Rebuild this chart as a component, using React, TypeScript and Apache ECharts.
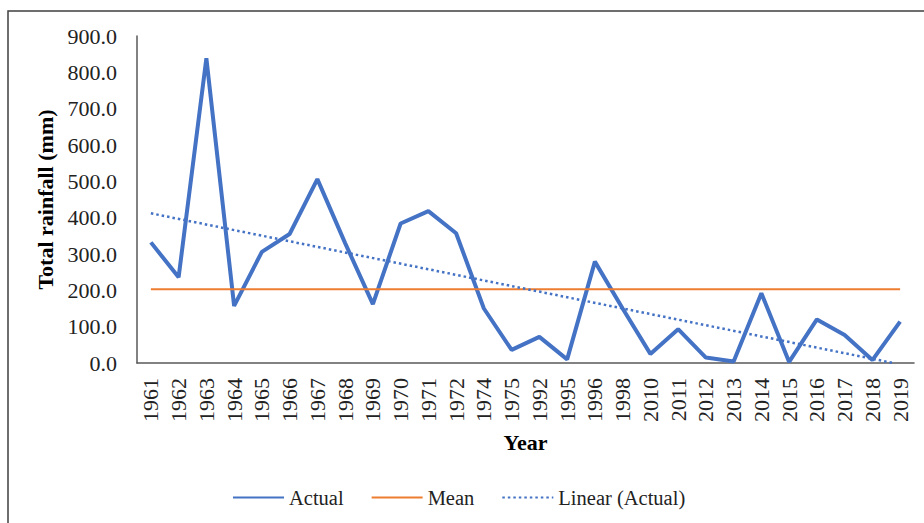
import React, { useEffect, useRef } from "react";
import * as echarts from "echarts";

const years = ["1961","1962","1963","1964","1965","1966","1967","1968","1969","1970","1971","1972","1974","1975","1992","1995","1996","1998","2010","2011","2012","2013","2014","2015","2016","2017","2018","2019"];
const actual = [332,236,839,157,306,355,506,330,162,384,418,357,150,36,72,10,279,150,25,93,15,4,192,3,120,77,8,114];
const meanValue = 203;
const meanLine = [[0, meanValue], [27, meanValue]];
const trendLine = [[0, 412], [26.75, 0]];
const yTicks = { min: 0, max: 900, interval: 100 };

const FONT = "Liberation Serif";
const FS = 22;

export default function App() {
  const ref = useRef<HTMLDivElement>(null);
  useEffect(() => {
    const chart = echarts.init(ref.current!, null, { renderer: "svg" });
    chart.setOption({
      animation: false,
      backgroundColor: "#fff",
      textStyle: { fontFamily: FONT, color: "#000" },
      graphic: [
        { type: "rect", shape: { x: 8, y: 11, width: 1000, height: 1000 }, style: { fill: "none", stroke: "#3f3f3f", lineWidth: 1.5 }, silent: true },
      ],
      grid: { left: 137, right: 10, top: 36, bottom: 160, outerBoundsMode: "none", containLabel: false },
      legend: {
        left: 227,
        top: 482,
        itemWidth: 51,
        itemHeight: 12,
        itemGap: 27,
        textStyle: { fontFamily: FONT, fontSize: 20.5, color: "#222" },
        data: ["Actual", "Mean", "Linear (Actual)"],
      },
      xAxis: [
        {
          type: "category",
          data: years,
          boundaryGap: true,
          name: "Year",
          nameLocation: "middle",
          nameGap: 68,
          nameTextStyle: { fontFamily: FONT, fontSize: FS, fontWeight: "bold", color: "#000" },
          axisLine: { lineStyle: { color: "#595959", width: 1.5 } },
          axisTick: { show: false },
          axisLabel: { rotate: 90, interval: 0, fontFamily: FONT, fontSize: FS, color: "#222", margin: 15 },
          splitLine: { show: false },
        },
        { type: "value", min: -0.5, max: 27.5, show: false },
      ],
      yAxis: {
        type: "value",
        min: yTicks.min,
        max: yTicks.max,
        interval: yTicks.interval,
        name: "Total rainfall (mm)",
        nameLocation: "middle",
        nameGap: 80,
        nameTextStyle: { fontFamily: FONT, fontSize: FS, fontWeight: "bold", color: "#000" },
        axisLine: { show: true, onZero: false, lineStyle: { color: "#595959", width: 1.5 } },
        axisTick: { show: false },
        splitLine: { show: false },
        axisLabel: { fontFamily: FONT, fontSize: FS, color: "#222", margin: 20, formatter: (v: number) => v.toFixed(1) },
      },
      series: [
        {
          name: "Actual",
          type: "line",
          data: actual,
          symbol: "none",
          lineStyle: { color: "#4472C4", width: 4 },
          itemStyle: { color: "rgba(0,0,0,0)" },
        },
        {
          name: "Mean",
          type: "line",
          xAxisIndex: 1,
          data: meanLine,
          symbol: "none",
          lineStyle: { color: "#ED7D31", width: 2.2 },
          itemStyle: { color: "rgba(0,0,0,0)" },
        },
        {
          name: "Linear (Actual)",
          type: "line",
          xAxisIndex: 1,
          data: trendLine,
          symbol: "none",
          lineStyle: { color: "#4472C4", width: 2.5, type: [2.5, 3] },
          itemStyle: { color: "rgba(0,0,0,0)" },
        },
      ],
    });
    return () => chart.dispose();
  }, []);
  return <div ref={ref} style={{ position: "absolute", left: 0, top: 0, width: 924, height: 523 }} />;
}
